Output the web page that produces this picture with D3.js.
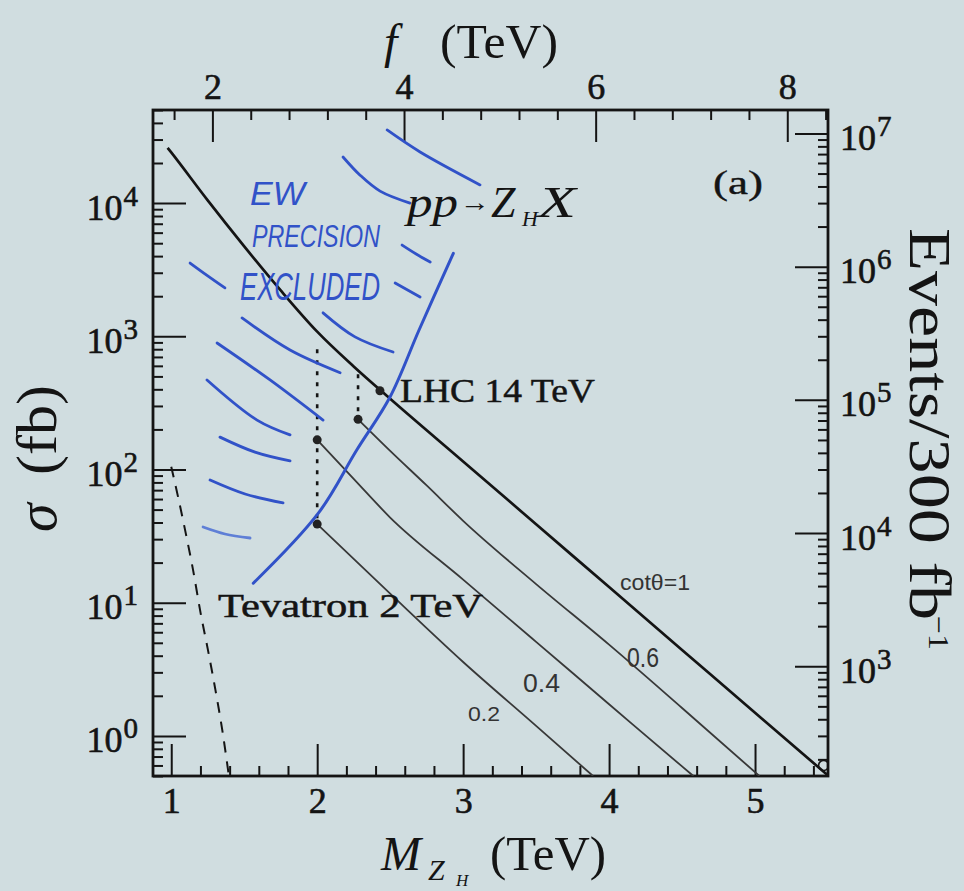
<!DOCTYPE html>
<html>
<head>
<meta charset="utf-8">
<script src="https://cdn.jsdelivr.net/npm/d3@7"></script>
<style>
  html, body { margin: 0; padding: 0; background: #d0dde0; }
  svg { display: block; }
</style>
</head>
<body>
<svg id="chart" width="964" height="891"></svg>
<script>
// ---- axis ranges and tick labels ----
const massRange = [0.875, 5.5];          // M_ZH (TeV), bottom axis
const fRange = [1.38, 8.425];            // f (TeV), top axis
const sigmaRange = [0.5, 5e4];           // sigma (fb), left axis
const luminosity = 300;                  // fb^-1, right axis = sigma * L
const massTicks = [1, 2, 3, 4, 5];
const fTicks = [2, 4, 6, 8];
const sigmaTicks = [1, 10, 100, 1000, 10000];
const eventTicks = [1e3, 1e4, 1e5, 1e6, 1e7];

// ---- LHC 14 TeV, cot(theta) = 1 ----
const massCot10 = [0.975, 1.0, 1.25, 1.5, 1.75, 2.0, 2.25, 2.5, 3.0, 3.5, 4.0, 4.5, 5.0, 5.5];
const sigmaCot10 = [26000, 24000, 10470, 4730, 2210, 1084, 594, 340, 115, 38.8, 13.1, 4.42, 1.49, 0.505];
// ---- cot(theta) = 0.6 ----
const massCot06 = [2.28, 2.5, 2.75, 3.0, 3.5, 4.0, 4.5, 5.03];
const sigmaCot06 = [238, 138, 75.9, 41.2, 13.8, 4.84, 1.62, 0.5];
// ---- cot(theta) = 0.4 ----
const massCot04 = [2.0, 2.25, 2.5, 3.0, 3.5, 4.0, 4.5, 4.578];
const sigmaCot04 = [167, 85, 43.6, 14.9, 5.08, 1.73, 0.59, 0.5];
// ---- cot(theta) = 0.2 ----
const massCot02 = [2.0, 2.5, 3.0, 3.5, 3.89];
const sigmaCot02 = [38.9, 11.7, 3.59, 1.19, 0.5];
// ---- Tevatron 2 TeV ----
const massTev = [1.0, 1.05, 1.1, 1.15, 1.2, 1.25, 1.3, 1.35, 1.395];
const sigmaTev = [105, 60, 33, 17.5, 8.5, 4.5, 2.3, 1.1, 0.5];
// ---- marked points and dotted connectors ----
const dotMass = [2.43, 2.28, 2.0, 2.0];
const dotSigma = [390, 238, 167, 38.9];
const connectorMass = [2.0, 2.28];
const connectorTop = [800, 520];
const connectorBottom = [38.9, 238];
const endMarker = [5.47, 0.6];

// ---- hand-drawn EW precision exclusion boundary and hatching ----
const boundaryMass = [1.562, 2.008, 2.271, 2.499, 2.698, 2.933];
const boundarySigma = [14, 47, 140, 350, 1115, 4200];
const hatchStrokes = [
  [[2.479, 35400], [2.705, 24200], [3.116, 13700]],
  [[2.177, 22200], [2.294, 16200], [2.431, 12300], [2.636, 10000]],
  [[2.582, 4840], [2.678, 4150], [2.774, 3610]],
  [[1.129, 3550], [1.245, 2870], [1.368, 2310]],
  [[2.534, 2510], [2.705, 1970]],
  [[2.040, 1500], [2.259, 990], [2.520, 762]],
  [[1.485, 1373], [1.814, 789], [2.157, 533]],
  [[1.314, 891], [1.677, 470], [2.040, 235]],
  [[1.245, 470], [1.588, 235], [1.814, 182]],
  [[1.334, 175], [1.574, 135], [1.814, 116]],
  [[1.266, 83.4], [1.506, 65.5], [1.766, 56.1]],
  [[1.218, 37], [1.368, 32.8], [1.540, 30.6]]
];

// ---- layout ----
const svg = d3.select('#chart');
const plot = { left: 153, right: 828, top: 110, bottom: 776 };
const ink = '#141414';
const blueInk = '#3152c8';
const serif = "'Liberation Serif', 'Times New Roman', serif";
const hand = "'Liberation Sans', 'DejaVu Sans', sans-serif";

svg.append('rect').attr('width', 964).attr('height', 891).attr('fill', '#d0dde0');

const x = d3.scaleLinear().domain(massRange).range([plot.left, plot.right]);
const xTop = d3.scaleLinear().domain(fRange).range([plot.left, plot.right]);
const y = d3.scaleLog().domain(sigmaRange).range([plot.bottom, plot.top]);
const yEvents = d3.scaleLog().domain(sigmaRange.map(s => s * luminosity)).range([plot.bottom, plot.top]);

function logMinor(domain) {
  const out = [];
  for (let e = Math.floor(Math.log10(domain[0])); e <= Math.ceil(Math.log10(domain[1])); e++) {
    for (let m = 2; m <= 9; m++) {
      const v = m * Math.pow(10, e);
      if (v >= domain[0] * 0.999 && v <= domain[1] * 1.001) out.push(v);
    }
  }
  return out;
}
const massMinor = d3.range(5, 28).map(i => i * 0.2).filter(v => Math.abs(v - Math.round(v)) > 1e-6);
const fMinor = d3.range(4, 22).map(i => i * 0.4).filter(v => Math.abs(v / 2 - Math.round(v / 2)) > 1e-6);

function styleAxis(g) {
  g.select('.domain').remove();
  g.selectAll('.tick line').attr('stroke', ink).attr('stroke-width', 2);
  g.selectAll('.tick text').attr('font-family', serif).attr('font-size', 36).attr('fill', ink)
    .attr('stroke', ink).attr('stroke-width', 0.6);
}
function powerLabels(g) {
  g.selectAll('.tick text').each(function (d) {
    const e = Math.round(Math.log10(d));
    const t = d3.select(this).text(null).attr('dy', 16);
    t.append('tspan').text('10');
    t.append('tspan').attr('dy', -14).attr('dx', 1).attr('font-size', 29).text(e);
  });
}

// bottom: M_ZH
svg.append('g').attr('transform', `translate(0,${plot.bottom})`)
  .call(d3.axisBottom(x).tickValues(massMinor).tickSize(-10).tickFormat('')).call(styleAxis);
svg.append('g').attr('transform', `translate(0,${plot.bottom})`)
  .call(d3.axisBottom(x).tickValues(massTicks).tickSize(-32).tickPadding(11).tickFormat(d3.format('d'))).call(styleAxis);
// top: f
svg.append('g').attr('transform', `translate(0,${plot.top})`)
  .call(d3.axisTop(xTop).tickValues(fMinor).tickSize(-10).tickFormat('')).call(styleAxis);
svg.append('g').attr('transform', `translate(0,${plot.top})`)
  .call(d3.axisTop(xTop).tickValues(fTicks).tickSize(-32).tickPadding(11).tickFormat(d3.format('d'))).call(styleAxis);
// left: sigma
svg.append('g').attr('transform', `translate(${plot.left},0)`)
  .call(d3.axisLeft(y).tickValues(logMinor(sigmaRange)).tickSize(-10).tickFormat('')).call(styleAxis);
svg.append('g').attr('transform', `translate(${plot.left},0)`)
  .call(d3.axisLeft(y).tickValues(sigmaTicks).tickSize(-33).tickPadding(15)).call(styleAxis).call(powerLabels);
// right: events
svg.append('g').attr('transform', `translate(${plot.right},0)`)
  .call(d3.axisRight(yEvents).tickValues(logMinor(yEvents.domain())).tickSize(-10).tickFormat('')).call(styleAxis);
svg.append('g').attr('transform', `translate(${plot.right},0)`)
  .call(d3.axisRight(yEvents).tickValues(eventTicks).tickSize(-33).tickPadding(12)).call(styleAxis).call(powerLabels);

// frame
svg.append('rect').attr('x', plot.left).attr('y', plot.top)
  .attr('width', plot.right - plot.left).attr('height', plot.bottom - plot.top)
  .attr('fill', 'none').attr('stroke', ink).attr('stroke-width', 2.8);

svg.append('clipPath').attr('id', 'plotClip').append('rect')
  .attr('x', plot.left).attr('y', plot.top).attr('width', plot.right - plot.left).attr('height', plot.bottom - plot.top);
const body = svg.append('g').attr('clip-path', 'url(#plotClip)');

const line = d3.line().x(d => x(d[0])).y(d => y(d[1])).curve(d3.curveMonotoneX);
const lineFree = d3.line().x(d => x(d[0])).y(d => y(d[1])).curve(d3.curveCatmullRom.alpha(0.5));

// cross-section curves
body.append('path').datum(d3.zip(massTev, sigmaTev)).attr('d', line)
  .attr('fill', 'none').attr('stroke', ink).attr('stroke-width', 2).attr('stroke-dasharray', '11,9');
[[massCot02, sigmaCot02], [massCot04, sigmaCot04], [massCot06, sigmaCot06]].forEach(([m, s]) => {
  body.append('path').datum(d3.zip(m, s)).attr('d', line)
    .attr('fill', 'none').attr('stroke', '#383838').attr('stroke-width', 1.8);
});
body.append('path').datum(d3.zip(massCot10, sigmaCot10)).attr('d', line)
  .attr('fill', 'none').attr('stroke', ink).attr('stroke-width', 2.7);
body.append('circle').attr('cx', x(endMarker[0])).attr('cy', y(endMarker[1])).attr('r', 5)
  .attr('fill', 'none').attr('stroke', ink).attr('stroke-width', 1.6);

// dotted connectors and marked points
connectorMass.forEach((m, i) => {
  body.append('line').attr('x1', x(m)).attr('x2', x(m))
    .attr('y1', y(connectorTop[i])).attr('y2', y(connectorBottom[i]))
    .attr('stroke', ink).attr('stroke-width', 2.6).attr('stroke-dasharray', '4,7');
});
body.selectAll('circle.pt').data(d3.zip(dotMass, dotSigma)).join('circle')
  .attr('class', 'pt').attr('cx', d => x(d[0])).attr('cy', d => y(d[1])).attr('r', 4.5).attr('fill', '#222');

// blue hand annotations
body.append('path').datum(d3.zip(boundaryMass, boundarySigma)).attr('d', lineFree)
  .attr('fill', 'none').attr('stroke', blueInk).attr('stroke-width', 3).attr('stroke-linecap', 'round');
body.selectAll('path.hatch').data(hatchStrokes).join('path')
  .attr('class', 'hatch').attr('d', lineFree)
  .attr('fill', 'none').attr('stroke', (d, i) => i === hatchStrokes.length - 1 ? '#5f7fd6' : blueInk)
  .attr('stroke-width', 2.8).attr('stroke-linecap', 'round');

function label(txt, px, py, opts) {
  const t = svg.append('text').attr('x', px).attr('y', py).text(txt)
    .attr('font-family', opts.family || serif).attr('font-size', opts.size)
    .attr('fill', opts.fill || ink);
  if (opts.italic) t.attr('font-style', 'italic');
  if (opts.heavy) t.attr('stroke', opts.fill || ink).attr('stroke-width', opts.heavy);
  if (opts.len) t.attr('textLength', opts.len).attr('lengthAdjust', 'spacingAndGlyphs');
  if (opts.rotate) t.attr('transform', `rotate(${opts.rotate},${px},${py})`);
  return t;
}

// blue handwriting
label('EW', 250, 205, { size: 34, family: hand, italic: true, fill: blueInk, len: 55 });
label('PRECISION', 252, 247, { size: 32, family: hand, italic: true, fill: blueInk, len: 128 });
label('EXCLUDED', 240, 300, { size: 38, family: hand, italic: true, fill: blueInk, len: 140 });

// curve annotations
label('LHC 14 TeV', 400, 402, { size: 34, len: 195, heavy: 0.5 });
label('Tevatron 2 TeV', 218, 617, { size: 34, len: 265, heavy: 0.5 });
label('(a)', 713, 194, { size: 34, len: 50, heavy: 0.4 });
label('cot\u03B8=1', 620, 590, { size: 22, family: hand, fill: '#333', len: 70 });
label('0.6', 627, 667, { size: 28, family: hand, fill: '#333', len: 32 });
label('0.4', 523, 692, { size: 26, family: hand, fill: '#333', len: 37 });
label('0.2', 468, 721, { size: 21, family: hand, fill: '#333', len: 32 });

// process label pp -> Z_H X
label('pp', 407, 217, { size: 44, italic: true, len: 51 });
label('\u2192', 460, 211, { size: 26, len: 30 });
label('Z', 491, 217, { size: 44, italic: true });
label('H', 522, 226, { size: 22, italic: true });
label('X', 538, 217, { size: 44, italic: true, len: 38 });

// axis titles
label('f', 384, 58, { size: 48, italic: true });
label('(TeV)', 440, 58, { size: 48, len: 118 });
label('M', 381, 870, { size: 48, italic: true });
label('Z', 428, 880, { size: 30, italic: true });
label('H', 456, 886, { size: 17, italic: true });
label('(TeV)', 490, 870, { size: 48, len: 116 });
label('\u03C3', 56, 532, { size: 58, italic: true, rotate: -90 });
label('(fb)', 56, 475, { size: 58, len: 90, rotate: -90 });
label('Events/300 fb', 910, 228, { size: 60, len: 392, rotate: 90 });
label('\u22121', 929, 616, { size: 30, len: 34, rotate: 90 });
</script>
</body>
</html>
